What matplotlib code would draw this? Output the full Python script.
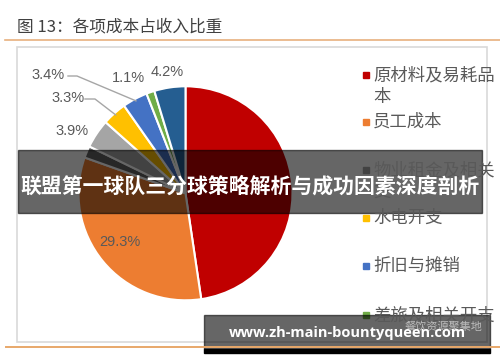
import numpy as np
import matplotlib
matplotlib.use('Agg')
import matplotlib.pyplot as plt
from matplotlib.patches import Rectangle
from matplotlib.lines import Line2D

plt.rcParams['font.family'] = ['Noto Sans CJK SC', 'DejaVu Sans']

# data
cost_names = ['原材料及易耗品\n本', '员工成本', '物业租金及相关\n支', '水电开支', '折旧与摊销', '差旅及相关开支']
slice_values = [42.6, 29.3, 1.6, 3.9, 3.3, 3.4, 1.1, 4.2]
slice_colors = ['#C00000', '#ED7D31', '#636363', '#A5A5A5', '#FFC000', '#4472C4', '#70AD47', '#255E91']
legend_colors = ['#C00000', '#ED7D31', '#A5A5A5', '#FFC000', '#4472C4', '#70AD47']
pct_labels = ['', '29.3%', '', '3.9%', '3.3%', '3.4%', '1.1%', '4.2%']

W, H = 500, 362
fig = plt.figure(figsize=(W / 100, H / 100), dpi=100)


def fx(x):
    return x / W


def fy(y):
    return 1 - y / H


# title + lines + frame
fig.text(fx(17), fy(27), '图 13：各项成本占收入比重', fontsize=12, color='#404040', va='center')
fig.add_artist(Line2D([fx(5), fx(500)], [fy(40), fy(40)], color='#E8B07E', lw=1.2))
fig.add_artist(Line2D([fx(6), fx(500)], [fy(347), fy(347)], color='#E8A86A', lw=1.4))
fig.add_artist(Rectangle((fx(17), fy(342)), fx(470), 295 / H, fill=False,
                         edgecolor='#D9D9D9', lw=1.2))

# pie
cx, cy, r = 185.5, 193.3, 107
ax = fig.add_axes([fx(cx - r), fy(cy + r), 2 * r / W, 2 * r / H])
wedges, _ = ax.pie(slice_values, colors=slice_colors, startangle=90, counterclock=False,
                   wedgeprops=dict(edgecolor='white', linewidth=1.5))
ax.set_xlim(-1, 1)
ax.set_ylim(-1, 1)
ax.set_aspect('equal')
ax.axis('off')

# data labels (positions)
lab_pos = {1: (120, 242), 3: (72, 131), 4: (68, 98), 5: (48, 75), 6: (128, 78), 7: (167, 72)}
leaders = {4: [(85, 99), (95, 99)], 5: [(68, 76), (77, 76)]}
for i, (px, py) in lab_pos.items():
    fig.text(fx(px), fy(py), pct_labels[i], fontsize=10.5, color='#595959',
             family='Liberation Sans', ha='center', va='center')
for i, pts in leaders.items():
    w = wedges[i]
    mid = np.deg2rad((w.theta1 + w.theta2) / 2)
    ex, ey = ax.transData.transform((np.cos(mid) * 0.98, np.sin(mid) * 0.98))
    xs = [fx(p[0]) for p in pts] + [ex / W]
    ys = [fy(p[1]) for p in pts] + [ey / H]
    fig.add_artist(Line2D(xs, ys, color='#A6A6A6', lw=1))

# legend
leg_y = [75, 122, 170, 218, 266, 315]
for name, col, y in zip(cost_names, legend_colors, leg_y):
    fig.add_artist(Rectangle((fx(363), fy(y + 3)), 6 / W, 6 / H, color=col))
    fig.text(fx(373), fy(y - 9), name, fontsize=12.5, color='#595959', va='top',
             linespacing=1.3)

# watermark under the lower banner
fig.text(fx(405), fy(327), '餐饮资源聚集地', fontsize=8, color='#BBBBBB', va='center')

# overlay banners
fig.add_artist(Rectangle((fx(18), fy(213)), 464 / W, 63 / H, color='black', alpha=0.6))
fig.text(fx(250), fy(186), '联盟第一球队三分球策略解析与成功因素深度剖析', fontsize=15,
         color='white', weight='bold', ha='center', va='center')
fig.add_artist(Rectangle((fx(204), fy(349)), 286 / W, 34 / H, color='black', alpha=0.6))
fig.add_artist(Rectangle((fx(204), fy(353)), 286 / W, 4 / H, color='black'))
fig.text(fx(347), fy(333), 'www.zh-main-bountyqueen.com', fontsize=10.5, color='white',
         weight='bold', ha='center', va='center', family='Open Sans')

fig.savefig('out.png', dpi=100)
